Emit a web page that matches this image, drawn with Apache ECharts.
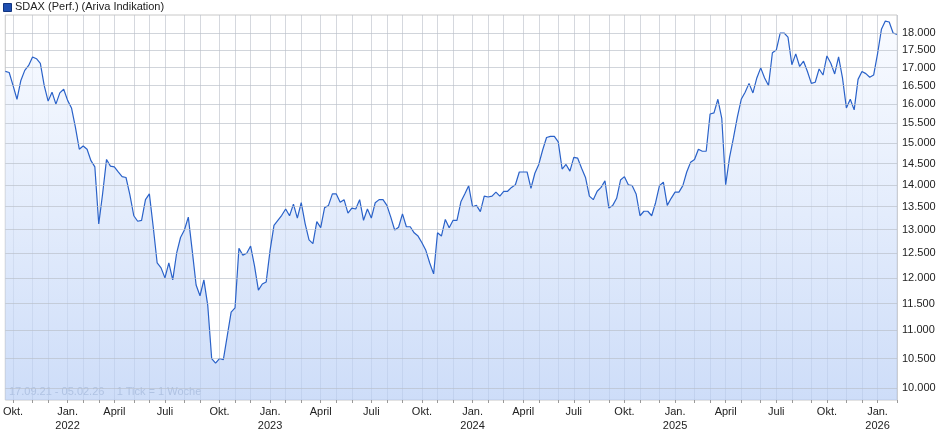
<!DOCTYPE html>
<html>
<head>
    <meta charset="utf-8">
    <title>SDAX</title>
    <script src="https://cdn.jsdelivr.net/npm/echarts@6.0.0/dist/echarts.min.js"></script>
</head>
<body style="margin:0">
    <div id="main" style="width: 940px;height:435px;"></div>
    <script type="text/javascript">
        // weekly closes, 17.09.21 - 05.02.26
        var values = [
            16890, 16860, 16500, 16130, 16640, 16920, 17060, 17300, 17250, 17120,
            16500, 16080, 16320, 16000, 16300, 16400, 16100, 15900, 15400, 14850,
            14930, 14850, 14570, 14420, 13120, 13800, 14600, 14440, 14420, 14300,
            14190, 14170, 13770, 13300, 13180, 13200, 13660, 13790, 13050, 12300,
            12200, 12000, 12300, 11960, 12500, 12830, 12990, 13270, 12560, 11860,
            11650, 11960, 11460, 10500, 10420, 10500, 10480, 10900, 11340, 11420,
            12600, 12460, 12500, 12650, 12240, 11760, 11880, 11920, 12560, 13090,
            13200, 13310, 13450, 13300, 13560, 13250, 13590, 13130, 12780, 12700,
            13170, 13040,
            13480, 13530, 13790, 13790, 13600, 13660, 13360, 13470, 13450, 13660,
            13200, 13450, 13250, 13590, 13660, 13660, 13530, 13270, 12990, 13050,
            13340, 13060, 13060, 12930, 12860, 12720, 12560, 12300, 12080, 12930,
            12860, 13220, 13040, 13200, 13200, 13610, 13790, 13980, 13500, 13530,
            13390, 13740, 13720, 13740, 13830, 13740, 13850, 13850, 13940, 14000,
            14300, 14300, 14300, 13920, 14270, 14480, 14830, 15140, 15170, 15170,
            15030, 14370, 14480, 14320, 14650, 14630, 14390, 14170, 13740, 13660,
            13850, 13940, 14090, 13470, 13530, 13690, 14110,
            14190, 14000, 13980, 13790, 13300, 13400, 13400, 13300, 13590, 13980,
            14060, 13530, 13690, 13830, 13830, 13980, 14300, 14530, 14600, 14850,
            14800, 14800, 15740, 15770, 16130, 15630, 14000, 14650, 15130, 15660,
            16130, 16320, 16560, 16300, 16710, 16990, 16710, 16500, 17420, 17500,
            18000, 18000, 17880, 17080, 17390, 17030, 17180, 16890, 16560, 16590,
            16960, 16790, 17330, 17120, 16820, 17300, 16710, 15900, 16130, 15850,
            16670, 16890, 16830, 16730, 16790, 17390, 18110, 18360, 18330, 18000,
            17960
        ];
        var yTicks = [10000, 10500, 11000, 11500, 12000, 12500, 13000, 13500, 14000,
            14500, 15000, 15500, 16000, 16500, 17000, 17500, 18000];
        var monthNames = ['Jan.', 'Feb.', 'März', 'April', 'Mai', 'Juni', 'Juli', 'Aug.', 'Sep.', 'Okt.', 'Nov.', 'Dez.'];

        var start = Date.UTC(2021, 8, 17);
        var dates = [];
        for (var i = 0; i < values.length; i++) {
            dates.push(new Date(start + i * 7 * 86400000).toISOString().slice(0, 10));
        }

        function firstOfMonth(idx) {
            if (idx === 0) return false;
            return dates[idx].slice(5, 7) !== dates[idx - 1].slice(5, 7);
        }
        function quarterStart(idx) {
            var m = +dates[idx].slice(5, 7) - 1;
            return firstOfMonth(idx) && m % 3 === 0;
        }

        var chart = echarts.init(document.getElementById('main'));
        var option = {
            animation: false,
            textStyle: { fontFamily: 'Liberation Sans, Arial, sans-serif' },
            grid: { left: 5, right: 43, top: 15, bottom: 35, show: true, borderColor: '#c8c8c8', borderWidth: 1 },
            graphic: [
                { type: 'rect', left: 3, top: 3, shape: { width: 8, height: 8 }, style: { fill: '#1f4fb0', stroke: '#123580' } },
                { type: 'text', left: 15, top: 1, style: { text: 'SDAX (Perf.) (Ariva Indikation)', fontSize: 11, fill: '#222', fontFamily: 'Liberation Sans, Arial' } },
                { type: 'text', left: 9, top: 386, style: { text: '17.09.21 - 05.02.26    1 Tick = 1 Woche', fontSize: 11, fill: '#9aa6b8', fontFamily: 'Liberation Sans, Arial' } },
                { type: 'text', left: 386, top: 188, style: { text: 'ARIVA.DE', fontSize: 26, fontStyle: 'italic', fontWeight: 'bold', fill: 'rgba(255,255,255,0.45)', fontFamily: 'Liberation Sans, Arial' } }
            ],
            xAxis: {
                type: 'category',
                data: dates,
                boundaryGap: false,
                axisLine: { show: false },
                axisTick: { show: true, interval: function (i) { return firstOfMonth(i); }, length: 3, lineStyle: { color: '#999' } },
                axisLabel: {
                    interval: function (i) { return quarterStart(i); },
                    fontSize: 11, color: '#222', margin: 5, lineHeight: 14,
                    formatter: function (v) {
                        var m = +v.slice(5, 7) - 1;
                        return m === 0 ? monthNames[m] + '\n' + v.slice(0, 4) : monthNames[m];
                    }
                },
                splitLine: { show: true, interval: function (i) { return firstOfMonth(i); }, lineStyle: { color: 'rgba(185,190,200,0.6)', width: 1 } }
            },
            yAxis: {
                type: 'log',
                logBase: 10,
                min: 9803,
                max: 18545,
                position: 'right',
                axisLine: { show: false },
                axisTick: { show: false },
                axisLabel: { show: false },
                splitLine: { show: false }
            },
            series: [{
                type: 'line',
                data: values,
                showSymbol: false,
                lineStyle: { color: '#2a62c9', width: 1.2 },
                areaStyle: {
                    color: new echarts.graphic.LinearGradient(0, 0, 0, 1, [
                        { offset: 0, color: 'rgba(246,249,255,1)' },
                        { offset: 1, color: 'rgba(184,206,245,1)' }
                    ])
                },
                markLine: {
                    silent: true,
                    symbol: 'none',
                    animation: false,
                    lineStyle: { color: 'rgba(185,190,200,0.65)', type: 'solid', width: 1 },
                    label: {
                        position: 'end', distance: 5, fontSize: 11, color: '#222',
                        formatter: function (p) { return p.value.toLocaleString('de-DE'); }
                    },
                    data: yTicks.map(function (t) { return { yAxis: t }; })
                }
            }]
        };
        chart.setOption(option);
    </script>
</body>
</html>
